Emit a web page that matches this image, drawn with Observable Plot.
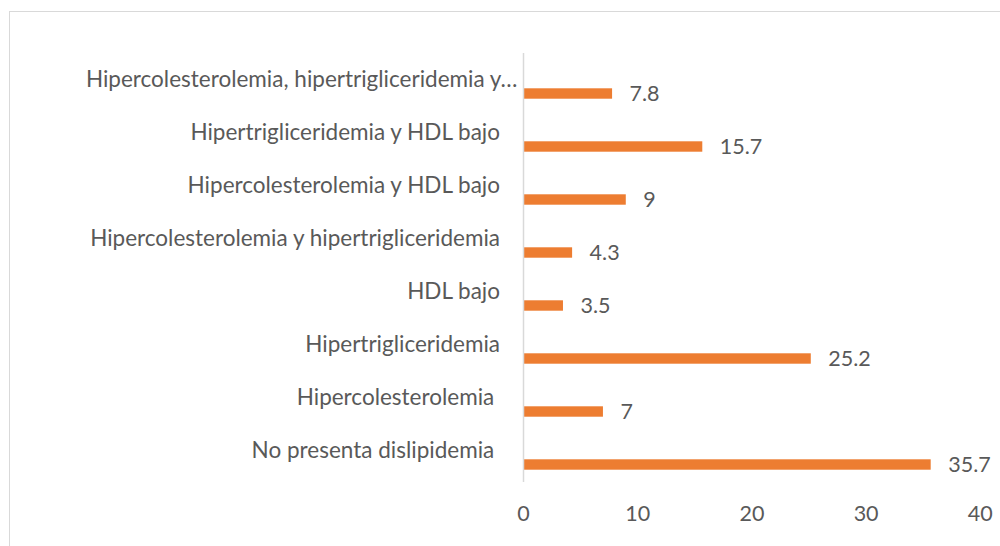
<!DOCTYPE html>
<html>
<head>
<meta charset="utf-8">
<script src="https://cdn.jsdelivr.net/npm/d3@7"></script>
<script src="https://cdn.jsdelivr.net/npm/@observablehq/plot@0.6"></script>
<style>
  html, body { margin: 0; padding: 0; background: #fff; overflow: hidden; }
  #wrap { position: relative; width: 1000px; height: 546px; overflow: hidden; }
  #frame { position: absolute; left: 9px; top: 11px; width: 1100px; height: 700px; border: 1px solid #d9d9d9; box-sizing: border-box; }
  #chart { position: absolute; left: 0; top: 0; }
  #chart svg text { white-space: pre; }
</style>
</head>
<body>
<div id="wrap"><div id="frame"></div><div id="chart"></div></div>
<script>
const categories = [
  "Hipercolesterolemia, hipertrigliceridemia y…",
  "Hipertrigliceridemia y HDL bajo",
  "Hipercolesterolemia y HDL bajo",
  "Hipercolesterolemia y hipertrigliceridemia",
  "HDL bajo",
  "Hipertrigliceridemia",
  "Hipercolesterolemia ",
  "No presenta dislipidemia "
];
const values = [7.8, 15.7, 9, 4.3, 3.5, 25.2, 7, 35.7];
const valueLabels = ["7.8", "15.7", "9", "4.3", "3.5", "25.2", "7", "35.7"];
const xTicks = [0, 10, 20, 30, 40];

const data = categories.map((c, i) => ({category: c, value: values[i], label: valueLabels[i], truncated: c.endsWith("…")}));

const FONT = "Lato, 'Open Sans', sans-serif";
const TEXT = "#595959";

const chart = Plot.plot({
  width: 1000,
  height: 546,
  marginLeft: 523,
  marginRight: 20.2,
  marginTop: 53,
  marginBottom: 64,
  style: {fontFamily: FONT, fontSize: "21px", color: TEXT, background: "transparent"},
  x: {domain: [0, 40], ticks: xTicks, axis: null, label: null},
  y: {domain: categories, padding: 0, axis: null},
  marks: [
    Plot.barX(data, {y: "category", x: "value", fill: "#ED7D31", insetTop: 32.3, insetBottom: 10.3}),
    Plot.ruleX([0], {stroke: "#d9d9d9", strokeWidth: 1.5}),
    Plot.text(data.filter(d => !d.truncated), {x: 0, y: "category", text: "category", textAnchor: "end", dx: -23.5, dy: -3.5, fill: TEXT, fontSize: 22.5}),
    Plot.text(data.filter(d => d.truncated), {x: 0, y: "category", text: "category", textAnchor: "end", dx: -6, dy: -3.5, fill: TEXT, fontSize: 22.5}),
    Plot.text(data, {x: "value", y: "category", text: "label", textAnchor: "start", dx: 17, dy: 11, fill: TEXT, fontSize: 21.5}),
    Plot.axisX({ticks: xTicks, tickSize: 0, tickPadding: 23, fontSize: 21.5, fill: TEXT, label: null, tickFormat: d => String(d)})
  ]
});
document.getElementById("chart").appendChild(chart);
</script>
</body>
</html>
